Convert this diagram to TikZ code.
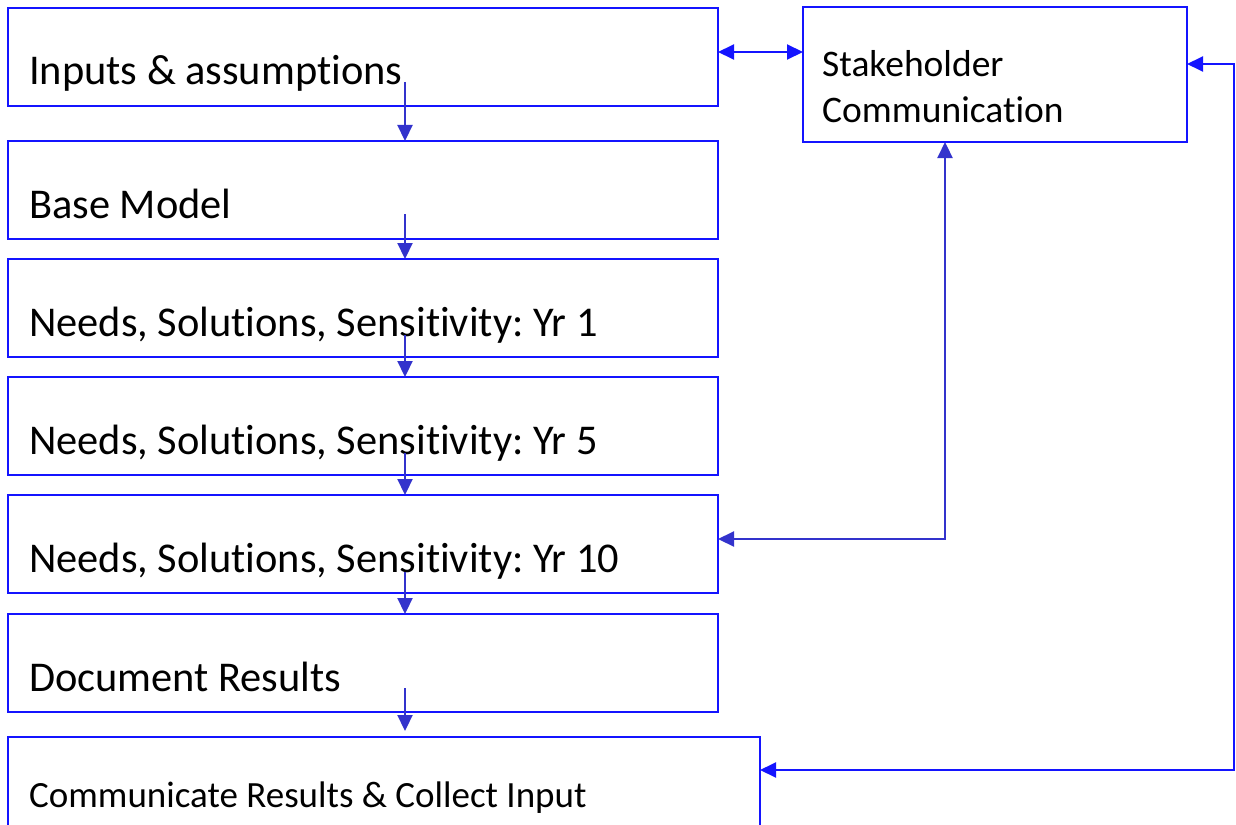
\documentclass[tikz,border=0pt]{standalone}
\usepackage{fontspec}
\setmainfont{Carlito}[Ligatures=NoCommon]
\usetikzlibrary{arrows.meta,calc}
\definecolor{boxblue}{RGB}{20,20,255}
\definecolor{arrblue}{RGB}{51,51,204}
\frenchspacing
\begin{document}
\begin{tikzpicture}[x=1pt,y=-1pt,
  box/.style={draw=boxblue,line width=2pt,rectangle,anchor=north west,inner sep=0pt,outer sep=0pt},
  lbl/.style={anchor=base west,inner sep=0pt,font=\fontsize{42.4}{50}\selectfont},
  flow/.style={draw=arrblue,line width=2.2pt,-{Triangle[width=15pt,length=16pt]}},
  link/.style={draw=boxblue,line width=2pt,{Triangle[width=15pt,length=16pt]}-{Triangle[width=15pt,length=16pt]}},
  link2/.style={draw=arrblue,line width=2.2pt,{Triangle[width=15pt,length=16pt]}-{Triangle[width=15pt,length=16pt]}}]
\useasboundingbox (0,0) rectangle (1236,824);
\clip (0,0) rectangle (1236,824);
% left boxes
\node[box,minimum width=710pt,minimum height=98pt] (b1) at (8,8) {};
\node[box,minimum width=710pt,minimum height=98pt] (b2) at (8,141) {};
\node[box,minimum width=710pt,minimum height=98pt] (b3) at (8,259) {};
\node[box,minimum width=710pt,minimum height=98pt] (b4) at (8,377) {};
\node[box,minimum width=710pt,minimum height=98pt] (b5) at (8,495) {};
\node[box,minimum width=710pt,minimum height=98pt] (b6) at (8,614) {};
\node[box,minimum width=752pt,minimum height=110pt] (b7) at (8,737) {};
\node[box,minimum width=384pt,minimum height=135pt] (sh) at (803,7) {};
% texts
\node[lbl] (t1) at (29,85) {Inputs \& assumptions};
\node[lbl] (t2) at (29,218) {Base Model};
\node[lbl] (t3) at (29,336) {Needs, Solutions, Sensitivity: Yr 1};
\node[lbl] (t4) at (29,454) {Needs, Solutions, Sensitivity: Yr 5};
\node[lbl] (t5) at (29,572) {Needs, Solutions, Sensitivity: Yr 10};
\node[lbl] (t6) at (29,691) {Document Results};
\node[lbl,font=\fontsize{37}{44}\selectfont] (t7) at (29,807) {Communicate Results \& Collect Input};
\node[anchor=base west,inner sep=0pt,align=left,font=\fontsize{37.5}{46}\selectfont] (tsh) at (822,122) {Stakeholder\\Communication};
% flow arrows
\coordinate (a1) at (405,82);
\coordinate (a2) at (405,214);
\coordinate (a3) at (405,335);
\coordinate (a4) at (405,453);
\coordinate (a5) at (405,572);
\coordinate (a6) at (405,688);
\coordinate (a7) at (405,731);
\draw[flow] (a1) -- (a1 |- b2.north);
\draw[flow] (a2) -- (a2 |- b3.north);
\draw[flow] (a3) -- (a3 |- b4.north);
\draw[flow] (a4) -- (a4 |- b5.north);
\draw[flow] (a5) -- (a5 |- b6.north);
\draw[flow] (a6) -- (a7);
% stakeholder links
\coordinate (d1) at (718,52);
\draw[link] (d1) -- (d1 -| sh.west);
\coordinate (c1) at (945,539);
\draw[link2] (c1 |- sh.south) -- (c1) -- (c1 -| b5.east);
\coordinate (c2) at (1234,64);
\coordinate (c3) at (1234,770);
\draw[link] (c2 -| sh.east) -- (c2) -- (c3) -- (c3 -| b7.east);
\end{tikzpicture}
\end{document}
